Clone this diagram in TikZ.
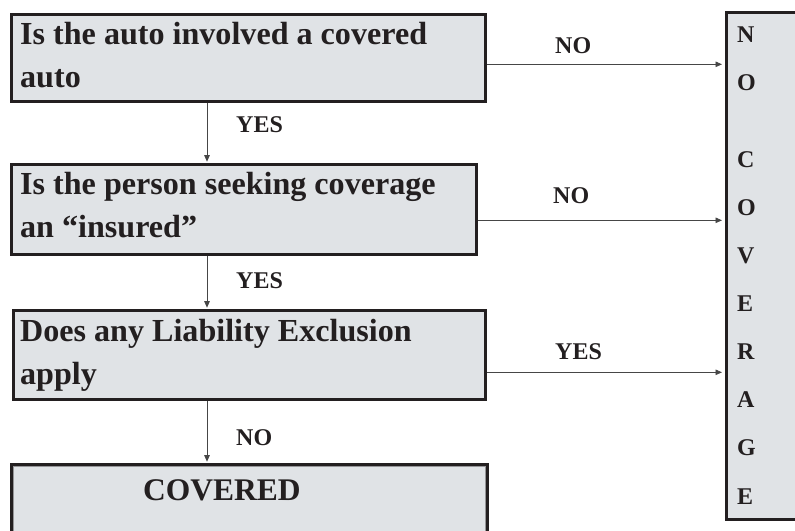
\documentclass[tikz,border=0pt]{standalone}
\usepackage{fontspec}
\setmainfont{Liberation Serif}
\usetikzlibrary{arrows.meta}
\definecolor{boxfill}{RGB}{224,227,230}
\definecolor{boxline}{RGB}{35,31,32}
\definecolor{arrowline}{RGB}{70,70,70}
\definecolor{innerline}{RGB}{150,150,152}
\begin{document}
\begin{tikzpicture}[x=1bp,y=-1bp,
  qbox/.style={draw=boxline, line width=2.6bp, fill=boxfill, anchor=north west, inner sep=0pt},
  qtext/.style={anchor=base west, inner sep=0pt, align=left,
    font=\bfseries\fontsize{32.1bp}{43bp}\selectfont, text=boxline},
  lbl/.style={anchor=base west, inner sep=0pt,
    font=\bfseries\fontsize{24bp}{28bp}\selectfont, text=boxline},
  arr/.style={draw=arrowline, line width=0.9bp, -{Triangle[length=6.5bp,width=5.5bp]}}]
\useasboundingbox (0,0) rectangle (795,531);
\clip (0,0) rectangle (795,531);

% question boxes
\node[qbox, minimum width=474bp, minimum height=87bp] (b1) at (10,13) {};
\node[qbox, minimum width=465bp, minimum height=90bp] (b2) at (10,163) {};
\node[qbox, minimum width=472bp, minimum height=89bp] (b3) at (12,309) {};
% result box with a double frame
\node[qbox, minimum width=476bp, minimum height=90bp] (b4) at (10,463) {};
\draw[draw=innerline, line width=1bp]
  ([shift={(3.5,3.5)}]b4.north west) rectangle ([shift={(-3.5,-3.5)}]b4.south east);
% "no coverage" column
\node[qbox, minimum width=90bp, minimum height=507bp] (nc) at (725,11) {};

% box texts (anchored on the baseline of the last line)
\node[qtext] (t1) at (20,88) {Is the auto involved a covered\\auto};
\node[qtext] (t2) at (20,238) {Is the person seeking coverage\\an “insured”};
\node[qtext] (t3) at (20,384) {Does any Liability Exclusion\\apply};
\node[qtext, font=\bfseries\fontsize{31.5bp}{43bp}\selectfont] (t4) at (143,500) {COVERED};
\node[lbl, align=left, font=\bfseries\fontsize{24bp}{48.1bp}\selectfont] (tnc) at (737,504)
  {N\\O\\[29bp]C\\O\\V\\E\\R\\A\\G\\E};

% connectors
\coordinate (vx) at (207,0);
\draw[arr, shorten >=1.3bp] (b1.south -| vx) -- (b2.north -| vx);
\draw[arr, shorten >=1.3bp] (b2.south -| vx) -- (b3.north -| vx);
\draw[arr, shorten >=1.3bp] (b3.south -| vx) -- (b4.north -| vx);
\draw[arr, shorten >=3bp] ([yshift=-6.5bp]b1.east) -- ([yshift=-6.5bp]b1.east -| nc.west);
\draw[arr, shorten >=3bp] ([yshift=-11bp]b2.east) -- ([yshift=-11bp]b2.east -| nc.west);
\draw[arr, shorten >=3bp] ([yshift=-17.5bp]b3.east) -- ([yshift=-17.5bp]b3.east -| nc.west);

% connector labels
\node[lbl] (l1) at (236,133) {YES};
\node[lbl] (l2) at (236,289) {YES};
\node[lbl] (l3) at (236,445) {NO};
\node[lbl] (l4) at (555,54) {NO};
\node[lbl] (l5) at (553,204) {NO};
\node[lbl] (l6) at (555,359) {YES};
\end{tikzpicture}
\end{document}
